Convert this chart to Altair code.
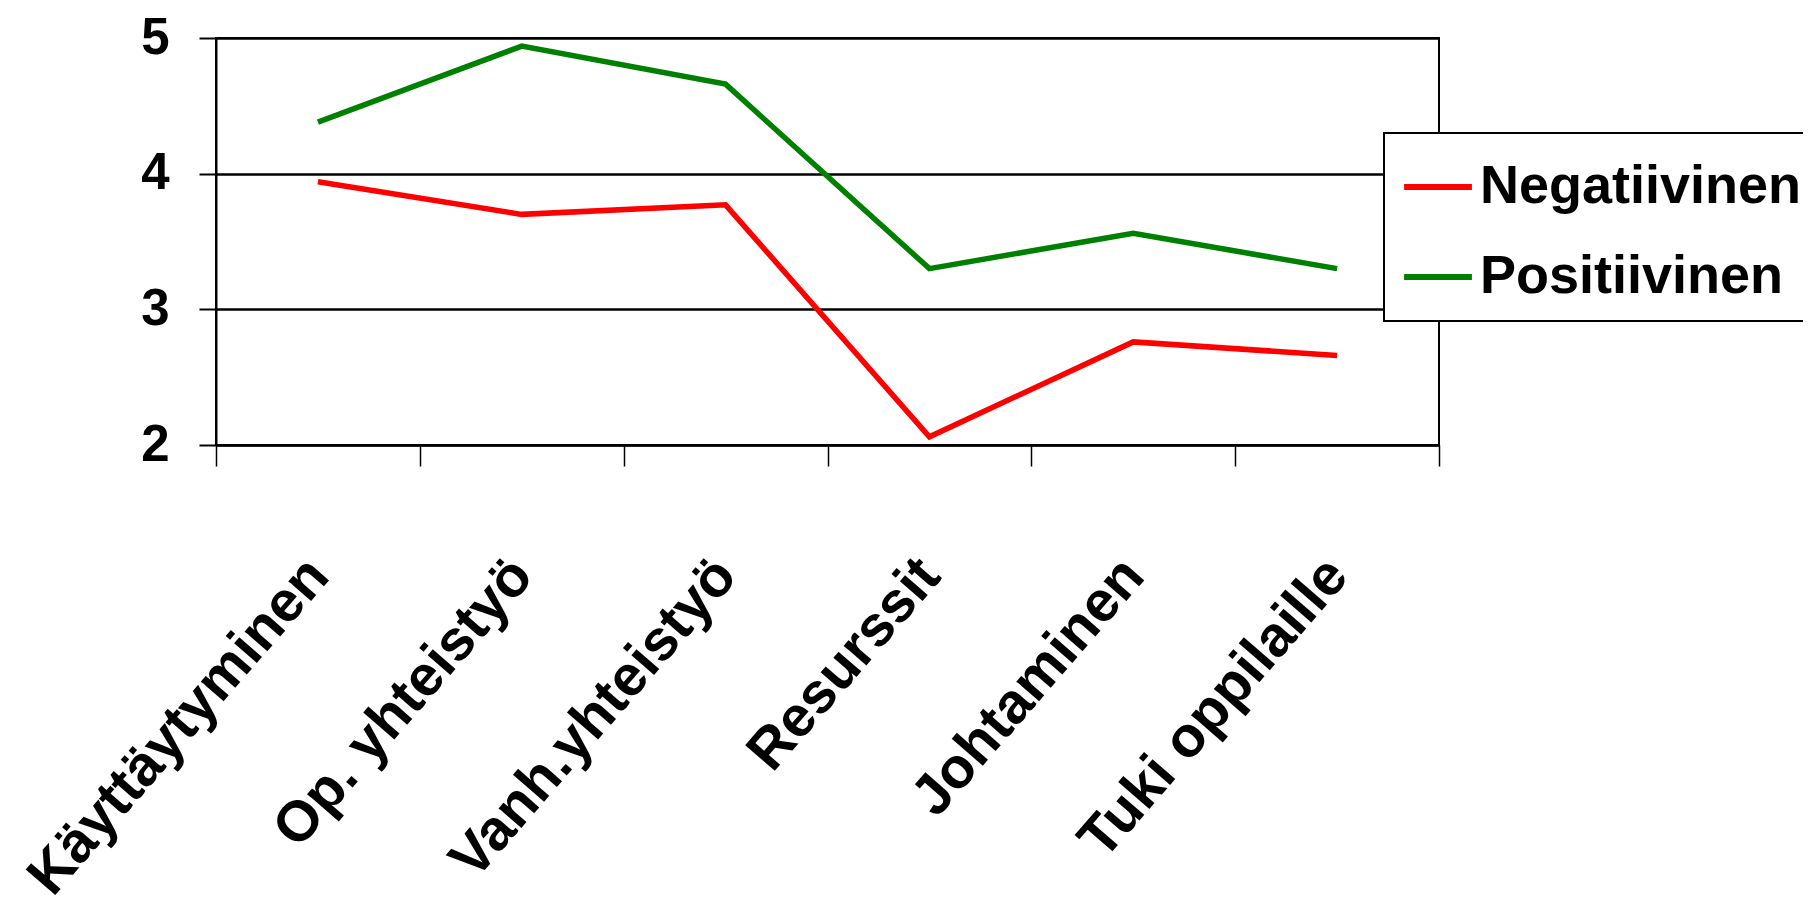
import altair as alt
import pandas as pd

categories = ["Käyttäytyminen", "Op. yhteistyö", "Vanh.yhteistyö", "Resurssit", "Johtaminen", "Tuki oppilaille"]
negatiivinen = [3.94, 3.70, 3.77, 2.06, 2.76, 2.66]
positiivinen = [4.38, 4.94, 4.66, 3.30, 3.56, 3.30]
series_names = ["Negatiivinen", "Positiivinen"]
series_colors = ["#FF0000", "#008000"]
y_ticks = [2, 3, 4, 5]

rows = []
for name, vals in zip(series_names, [negatiivinen, positiivinen]):
    for c, v in zip(categories, vals):
        rows.append({"kategoria": c, "arvo": v, "sarja": name})
df = pd.DataFrame(rows)

font = "Liberation Sans"

chart = alt.Chart(df).mark_line(strokeWidth=5.5).encode(
    x=alt.X(
        "kategoria:N",
        sort=categories,
        scale=alt.Scale(paddingInner=0, paddingOuter=0),
        axis=alt.Axis(
            title=None,
            labelAngle=311,
            labelAlign="right",
            labelBaseline="middle",
            labelFont=font,
            labelFontWeight="bold",
            labelFontSize=57,
            labelColor="black",
            labelPadding=100,
            labelLimit=0,
            tickBand="extent",
            tickSize=21,
            tickColor="black",
            tickWidth=1.5,
            domainColor="black",
            domainWidth=2,
            grid=False,
        ),
    ),
    y=alt.Y(
        "arvo:Q",
        scale=alt.Scale(domain=[2, 5], nice=False, zero=False),
        axis=alt.Axis(
            title=None,
            values=y_ticks,
            format="d",
            labelFont=font,
            labelFontWeight="bold",
            labelFontSize=51,
            labelColor="black",
            labelPadding=30,
            labelLimit=0,
            tickSize=17,
            tickColor="black",
            tickWidth=2,
            domainColor="black",
            domainWidth=2,
            gridColor="black",
            gridWidth=2.5,
            gridOpacity=1,
        ),
    ),
    color=alt.Color(
        "sarja:N",
        scale=alt.Scale(domain=series_names, range=series_colors),
        legend=alt.Legend(
            title=None,
            orient="none",
            legendX=1168,
            legendY=95,
            symbolType="stroke",
            symbolSize=4600,
            symbolStrokeWidth=6,
            labelFont=font,
            labelFontWeight="bold",
            labelFontSize=54,
            labelColor="black",
            labelOffset=5,
            labelLimit=0,
            rowPadding=26,
            padding=17,
            strokeColor="black",
            fillColor="white",
        ),
    ),
).properties(
    width=1223,
    height=407,
    autosize=alt.AutoSizeParams(type="none"),
    padding={"left": 208, "top": 30, "right": 364, "bottom": 458},
).configure_view(
    stroke="black",
    strokeWidth=2,
).configure_legend(
    strokeWidth=2,
)

chart.save("out.html", embed_options={"renderer": "svg", "actions": False})
